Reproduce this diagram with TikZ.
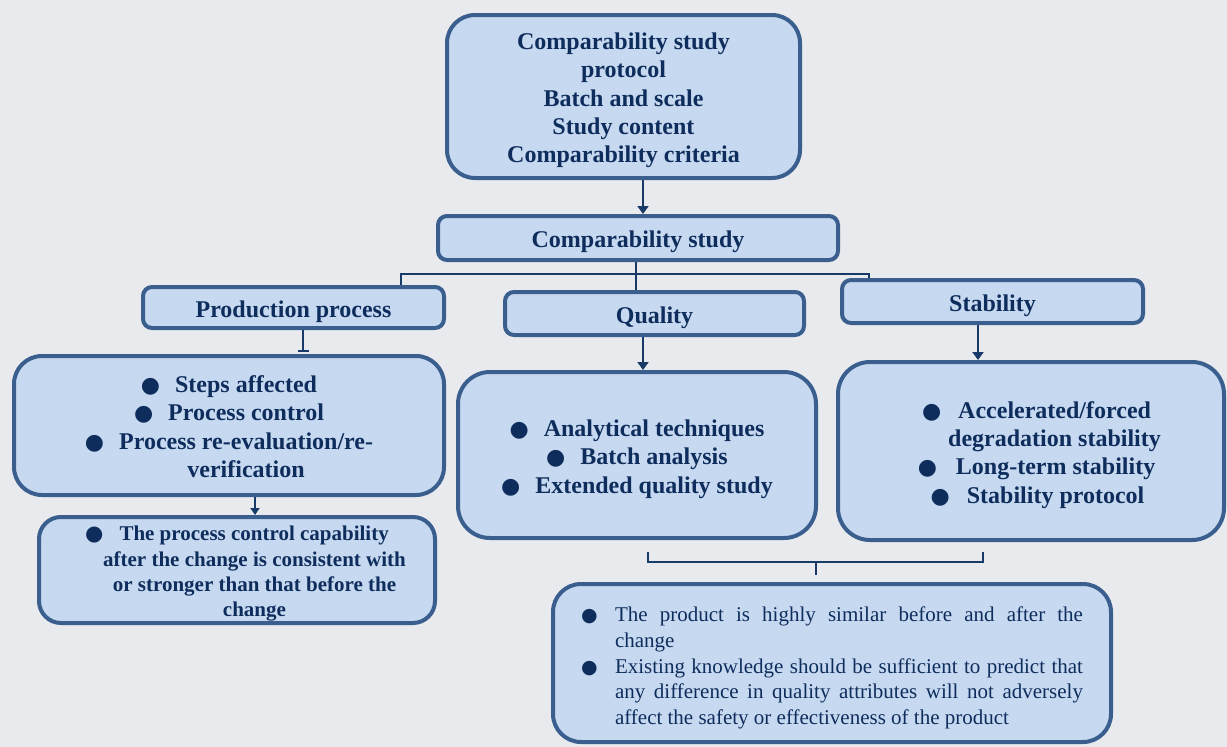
\documentclass[tikz,border=0pt]{standalone}
\usepackage{fontspec}
\setmainfont{Liberation Serif}
\newfontfamily\symfont{DejaVu Sans}
\usetikzlibrary{arrows.meta}

\definecolor{bgcol}{HTML}{E8EAED}
\definecolor{boxfill}{HTML}{C6D9F0}
\definecolor{boxline}{HTML}{3A5F8E}
\definecolor{inkcol}{HTML}{0E2D5C}
\definecolor{linkcol}{HTML}{173A68}

% filled round bullets
\newcommand\dotbig{{\fontsize{22pt}{22pt}\symfont ●}}
\newcommand\dotmid{{\fontsize{21pt}{21pt}\symfont ●}}
\newcommand\dotsmall{{\fontsize{19pt}{19pt}\symfont ●}}
% struts that set the first line a little lower in its box
\newcommand\liftbig{\rule{0pt}{24.5pt}}
\newcommand\liftlow{\rule{0pt}{19pt}}
\newcommand\liftsmall{\rule{0pt}{22pt}}
\newcommand\liftmore{\rule{0pt}{25pt}}

\tikzset{
  box/.style={draw=boxline, fill=boxfill, line width=4pt, inner sep=0pt,
    text=inkcol, align=center, font=\fontsize{24pt}{28.4pt}\selectfont\bfseries},
  bigbox/.style={box, rounded corners=28pt},
  barbox/.style={box, rounded corners=9pt},
  link/.style={draw=linkcol, line width=2.2pt},
  thinlink/.style={draw=linkcol, line width=1.6pt},
  arr/.style={link, -{Triangle[width=11pt,length=8pt]}},
  smallarr/.style={link, -{Triangle[width=9pt,length=7pt]}},
  bararr/.style={link, -{Bar[width=11pt,line width=2pt]}},
}

\begin{document}
\begin{tikzpicture}[x=1pt,y=-1pt]
\fill[bgcol] (0,0) rectangle (1227,747);
\useasboundingbox (0,0) rectangle (1227,747);

% top protocol box and main study bar
\node[bigbox, minimum width=353pt, minimum height=163pt] (proto) at (623.5,96.5)
  {\liftbig Comparability study\\protocol\\Batch and scale\\Study content\\Comparability criteria};
\node[barbox, minimum width=400pt, minimum height=44pt] (comp) at (638,238)
  {\liftbig Comparability study};

% three branches
\node[barbox, minimum width=301pt, minimum height=41pt] (prod) at (293.5,307.5)
  {\liftbig Production process};
\node[barbox, minimum width=299pt, minimum height=43pt] (qual) at (654.5,313.5)
  {\liftbig Quality};
\node[barbox, minimum width=301pt, minimum height=43pt] (stab) at (992.5,301.5)
  {\liftbig Stability};

% branch contents
\node[bigbox, minimum width=430pt, minimum height=139pt] (prodlist) at (229,425.5)
  {\liftlow\dotbig\hspace{15pt}Steps affected\\
   \dotbig\hspace{15pt}Process control\\
   \dotbig\hspace{15pt}Process re-evaluation/re-\\
   \hspace*{34pt}verification};
\node[bigbox, rounded corners=22pt, minimum width=396pt, minimum height=106pt,
  font=\fontsize{21pt}{25.3pt}\selectfont\bfseries] (capab) at (237,570)
  {\liftsmall\dotmid\hspace{16pt}The process control capability\\
   \hspace*{35pt}after the change is consistent with\\
   \hspace*{35pt}or stronger than that before the\\
   \hspace*{35pt}change};
\node[bigbox, rounded corners=32pt, minimum width=358pt, minimum height=166pt] (quallist) at (637,455)
  {\liftbig\dotbig\hspace{15pt}Analytical techniques\\
   \dotbig\hspace{15pt}Batch analysis\\
   \dotbig\hspace{15pt}Extended quality study};
\node[bigbox, rounded corners=32pt, minimum width=386pt, minimum height=178pt] (stablist) at (1031,451)
  {\liftbig\hspace*{11pt}\dotbig\hspace{17pt}Accelerated/forced\\
   \hspace*{47pt}degradation stability\\
   \hspace*{11pt}\dotbig\hspace{19pt}Long-term stability\\
   \hspace*{13pt}\dotbig\hspace{17pt}Stability protocol};

% conclusion box
\node[bigbox, minimum width=558pt, minimum height=158pt, text width=502pt, align=justify,
  font=\fontsize{21pt}{25.7pt}\selectfont] (concl) at (832,663)
  {\hangindent=34pt\hangafter=1\noindent\liftmore\makebox[34pt][l]{\dotsmall}The product is highly similar before and after the\linebreak change\par
   \hangindent=34pt\hangafter=1\noindent\makebox[34pt][l]{\dotsmall}Existing knowledge should be sufficient to predict that\linebreak any difference in quality attributes will not adversely\linebreak affect the safety or effectiveness of the product\par};

% connectors
\draw[arr] ([xshift=19.5pt]proto.south) -- ([xshift=5pt]comp.north);
\coordinate (hub) at (636,274);
\draw[link] ([xshift=-2pt]comp.south) -- ([xshift=-18.5pt]qual.north);
\draw[thinlink] ([xshift=107.5pt]prod.north) |- (hub) -| ([xshift=-123.5pt]stab.north);
\draw[bararr, shorten >=2pt] ([xshift=9.5pt]prod.south) -- ([xshift=74pt]prodlist.north);
\draw[smallarr] ([xshift=26pt]prodlist.south) -- ([xshift=18pt]capab.north);
\draw[arr] ([xshift=-11.5pt]qual.south) -- ([xshift=6pt]quallist.north);
\draw[arr] ([xshift=-14.5pt]stab.south) -- ([xshift=-53pt]stablist.north);

% bracket gathering quality and stability
\coordinate (braceL) at (648,552);
\coordinate (braceR) at (983,552);
\coordinate (braceM) at (816,562);
\draw[link] (braceL) |- (braceM) -| (braceR);
\draw[link, shorten >=7pt] (braceM) -- ([xshift=-16pt]concl.north);
\end{tikzpicture}
\end{document}
